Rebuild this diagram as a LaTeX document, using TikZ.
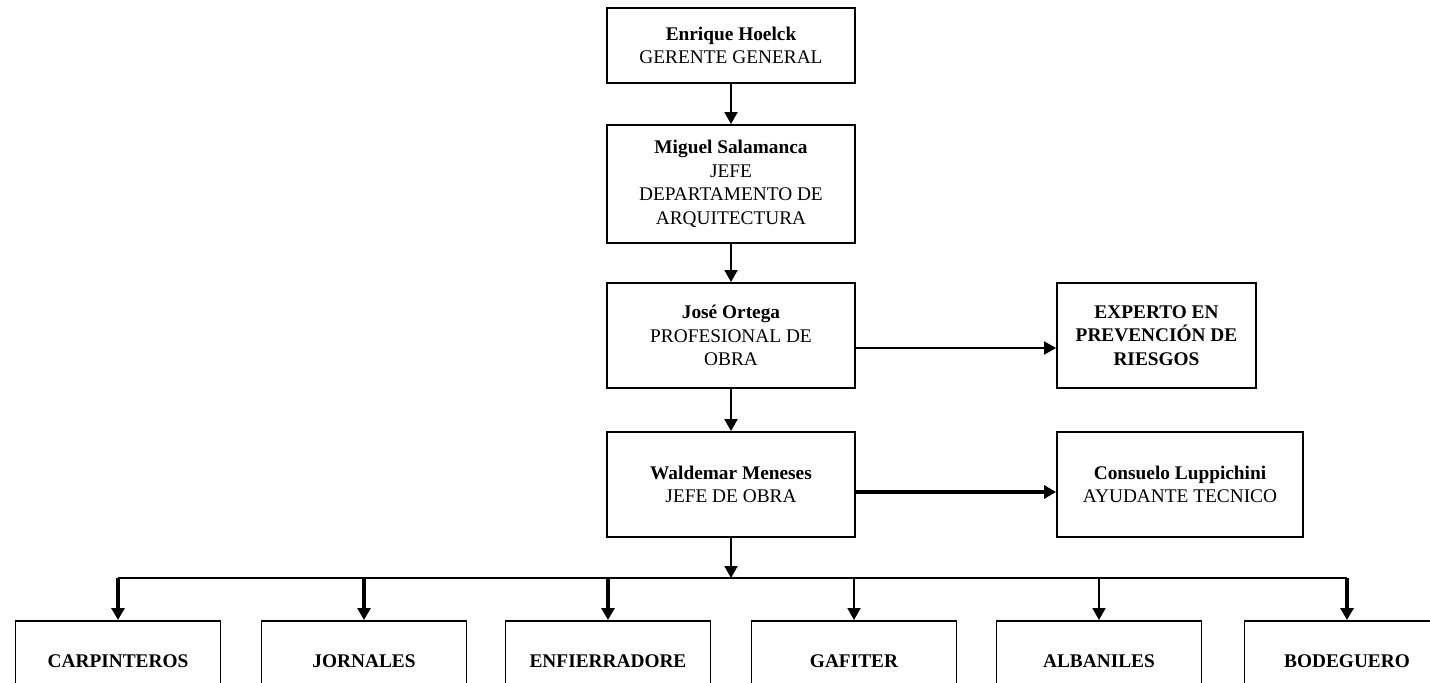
\documentclass[tikz,border=0pt]{standalone}
\usepackage{fontspec}
\setmainfont{Liberation Serif}
\usetikzlibrary{arrows.meta}

\begin{document}
\begin{tikzpicture}[
    box/.style={draw, line width=1.1pt, minimum width=4.96cm, minimum height=2.1cm,
                align=center, inner sep=2pt, font=\fontsize{11}{13.5}\selectfont},
    base/.style={box, minimum width=4.1cm, minimum height=1.6cm, anchor=north,
                 font=\fontsize{11}{13.5}\selectfont\bfseries},
    flecha/.style={line width=1.1pt, -{Triangle[length=0.24cm,width=0.26cm]}},
    gruesa/.style={flecha, line width=2pt}
  ]
    \useasboundingbox (0,0) rectangle (28.6,-13.66);

    \node[box, minimum height=1.5cm] (gerente) at (14.62,-0.91)
        {\textbf{Enrique Hoelck}\\GERENTE GENERAL};
    \node[box, minimum height=2.36cm] (jefedep) at (14.62,-3.68)
        {\textbf{Miguel Salamanca}\\JEFE\\DEPARTAMENTO DE\\ARQUITECTURA};
    \node[box] (profesional) at (14.62,-6.71)
        {\textbf{José Ortega}\\PROFESIONAL DE\\OBRA};
    \node[box] (jefeobra) at (14.62,-9.69)
        {\textbf{Waldemar Meneses}\\JEFE DE OBRA};
    \node[box, minimum width=3.98cm, font=\fontsize{11}{13.5}\selectfont\bfseries] (experto) at (23.13,-6.71)
        {EXPERTO EN\\PREVENCIÓN DE\\RIESGOS};
    \node[box, minimum width=4.92cm] (ayudante) at (23.6,-9.69)
        {\textbf{Consuelo Luppichini}\\AYUDANTE TECNICO};

    \node[base] (carpinteros) at (2.36,-12.4) {CARPINTEROS};
    \node[base] (jornales) at (7.28,-12.4) {JORNALES};
    \node[base] (enfierradore) at (12.16,-12.4) {ENFIERRADORE};
    \node[base] (gafiter) at (17.08,-12.4) {GAFITER};
    \node[base] (albaniles) at (21.98,-12.4) {ALBANILES};
    \node[base] (bodeguero) at (26.94,-12.4) {BODEGUERO};

    \coordinate (bus) at (14.62,-11.56);

    \draw[flecha] (gerente) -- (jefedep);
    \draw[flecha] (jefedep) -- (profesional);
    \draw[flecha] (profesional) -- (jefeobra);
    \draw[flecha] ([yshift=-0.25cm]profesional.east) -- ([yshift=-0.25cm]experto.west);
    \draw[gruesa] ([yshift=-0.15cm]jefeobra.east) -- ([yshift=-0.15cm]ayudante.west);
    \draw[flecha] (jefeobra) -- (bus);

    \draw[line width=1.1pt] (carpinteros.north |- bus) -- (bodeguero.north |- bus);
    \draw[gruesa] (carpinteros.north |- bus) -- (carpinteros.north);
    \draw[gruesa] (jornales.north |- bus) -- (jornales.north);
    \draw[gruesa] (enfierradore.north |- bus) -- (enfierradore.north);
    \draw[flecha] (gafiter.north |- bus) -- (gafiter.north);
    \draw[flecha] (albaniles.north |- bus) -- (albaniles.north);
    \draw[gruesa] (bodeguero.north |- bus) -- (bodeguero.north);
\end{tikzpicture}
\end{document}
